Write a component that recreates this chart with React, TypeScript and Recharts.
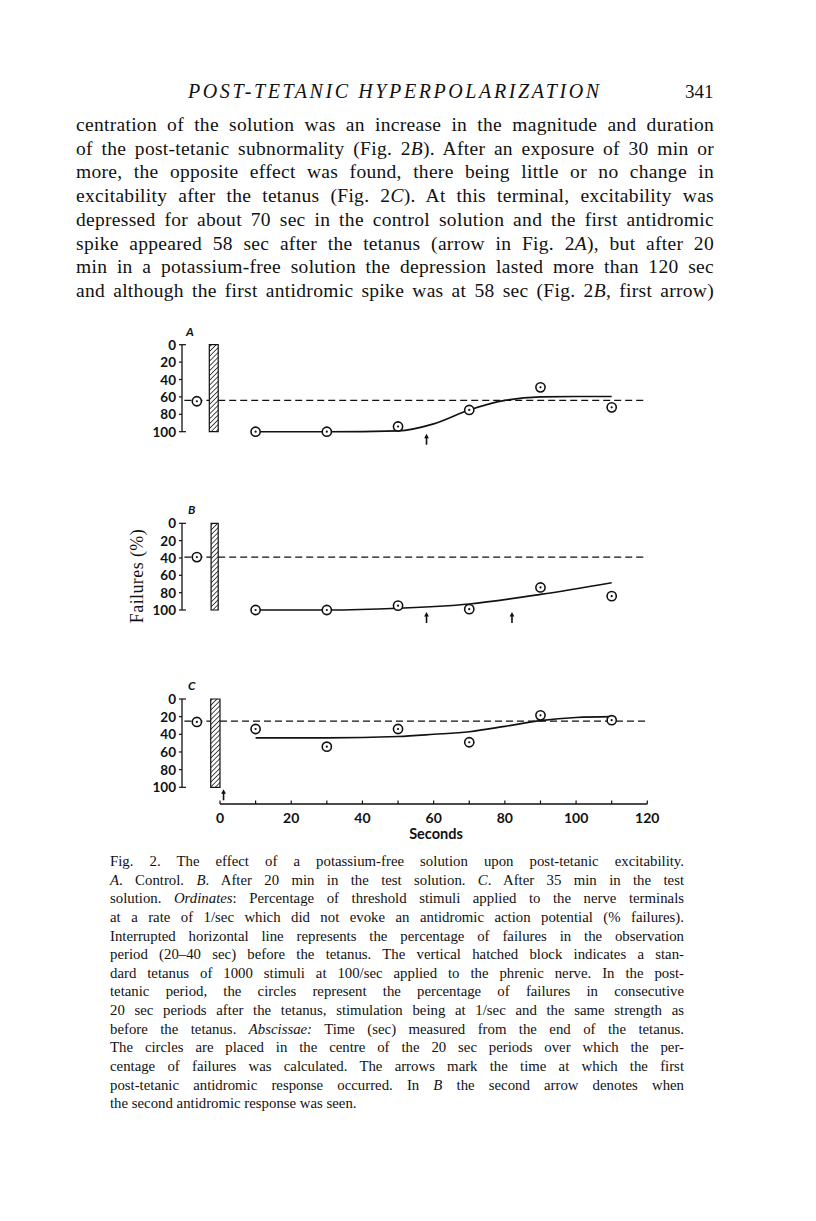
import React from "react";
import {
  ComposedChart,
  Line,
  Scatter,
  XAxis,
  YAxis,
  ReferenceLine,
  ReferenceArea,
} from "recharts";

// sample times (centre of each 20 sec period after the tetanus)
const times = [10, 30, 50, 70, 90, 110];
const failuresA = [100, 100, 94, 75, 49, 72];
const failuresB = [100, 100, 95, 99, 74, 84];
const failuresC = [34, 54, 34, 49, 18.5, 24];

// control point before the tetanus
const preTime = -6.5;
const preA = 65;
const preB = 39;
const preC = 26;

// interrupted line (pre-tetanic level)
const baselineA = 64;
const baselineB = 39;
const baselineC = 25;

// hand-drawn curves
const curveTimesA = [10, 30, 50, 60, 70, 80, 90, 100, 110];
const curveA = [100, 100, 99, 91, 75, 64, 60, 59.5, 59.5];
const curveTimesB = [10, 30, 50, 70, 90, 110];
const curveB = [100, 100, 98, 93, 82, 68.5];
const curveTimesC = [10, 30, 50, 60, 70, 80, 90, 100, 110];
const curveC = [44, 44, 42.5, 40, 37, 31, 24.5, 21, 20];

// first antidromic spike(s)
const arrowsA = [58];
const arrowsB = [58, 82];
const arrowsC = [1];

// tetanus block [start, end] in sec
const tetanusA = [-3, -0.5];
const tetanusB = [-2.5, -0.5];
const tetanusC = [-2.6, 0];

const yTicks = [0, 20, 40, 60, 80, 100];
const xTicks = [0, 10, 20, 30, 40, 50, 60, 70, 80, 90, 100, 110, 120];
const xLabels = [0, 20, 40, 60, 80, 100, 120];

const X_MIN = -10.67;
const INK = "#111";
const tickFont = "Lato, 'Open Sans', sans-serif";

const pts = (xs: number[], ys: number[]) => xs.map((x, i) => ({ x, y: ys[i] }));

const Circle = (props: any) => {
  const { cx, cy } = props;
  if (cx == null || cy == null) return null;
  return (
    <g>
      <circle cx={cx} cy={cy} r={4.6} fill="#fff" stroke={INK} strokeWidth={1.6} />
      <circle cx={cx} cy={cy} r={1.1} fill={INK} />
    </g>
  );
};

const Arrow = (props: any) => {
  const { cx, cy } = props;
  if (cx == null || cy == null) return null;
  return (
    <g>
      <line x1={cx} y1={cy + 5} x2={cx} y2={cy + 13} stroke={INK} strokeWidth={1.6} />
      <path d={`M${cx - 2.4},${cy + 6.5} L${cx},${cy + 2} L${cx + 2.4},${cy + 6.5} Z`} fill={INK} />
    </g>
  );
};

const YTick = (props: any) => {
  const { x, y, payload } = props;
  const v = payload.value;
  return (
    <g>
      <line x1={x - 3} y1={y} x2={x} y2={y} stroke={INK} strokeWidth={1.2} />
      {(v === 0 || v === 100) && <line x1={x} y1={y} x2={x + 4} y2={y} stroke={INK} strokeWidth={1.2} />}
      <text x={x - 6} y={y} textAnchor="end" dominantBaseline="central" fontFamily={tickFont} fontWeight={700} fontSize={13.5} fill={INK}>
        {v}
      </text>
    </g>
  );
};

const XTick = (props: any) => {
  const { x, y, payload } = props;
  const v = payload.value;
  return (
    <g>
      <line x1={x} y1={y - 3.5} x2={x} y2={y} stroke={INK} strokeWidth={1.2} />
      {xLabels.includes(v) && (
        <text x={x} y={y + 13} textAnchor="middle" dominantBaseline="central" fontFamily={tickFont} fontWeight={700} fontSize={14} fill={INK}>
          {v}
        </text>
      )}
    </g>
  );
};

type PanelProps = {
  top: number;
  marginTop: number;
  plotHeight: number;
  failures: number[];
  pre: number;
  baseline: number;
  curveTimes: number[];
  curve: number[];
  arrows: number[];
  tetanus: number[];
  id: string;
};

const Panel = (p: PanelProps) => {
  const height = 130;
  return (
    <div style={{ position: "absolute", left: 0, top: p.top }}>
      <ComposedChart
        width={816}
        height={height}
        margin={{ top: p.marginTop, right: 168.7, bottom: height - p.marginTop - p.plotHeight, left: 152 }}
      >
        <defs>
          <pattern id={p.id} width={3.4} height={3.4} patternUnits="userSpaceOnUse" patternTransform="rotate(45)">
            <rect width={3.4} height={3.4} fill="#fff" />
            <line x1={0} y1={0} x2={0} y2={3.4} stroke={INK} strokeWidth={1.5} />
          </pattern>
        </defs>
        <XAxis type="number" dataKey="x" domain={[X_MIN, 120]} allowDataOverflow hide />
        <YAxis
          type="number"
          domain={[0, 100]}
          reversed
          ticks={yTicks}
          interval={0}
          width={30}
          tickSize={0}
          tickMargin={0}
          tickLine={false}
          tick={<YTick />}
          axisLine={{ stroke: INK, strokeWidth: 1.3 }}
        />
        <ReferenceLine
          segment={[{ x: -10, y: p.baseline }, { x: p.tetanus[0], y: p.baseline }]}
          stroke={INK}
          strokeWidth={1.4}
          strokeDasharray="7 4"
        />
        <ReferenceLine
          segment={[{ x: p.tetanus[1], y: p.baseline }, { x: 120, y: p.baseline }]}
          stroke={INK}
          strokeWidth={1.4}
          strokeDasharray="7 4"
        />
        <ReferenceArea
          x1={p.tetanus[0]}
          x2={p.tetanus[1]}
          y1={0}
          y2={100}
          fill={`url(#${p.id})`}
          fillOpacity={1}
          stroke={INK}
          strokeWidth={1.2}
        />
        <Line
          data={pts(p.curveTimes, p.curve)}
          dataKey="y"
          type="monotone"
          stroke={INK}
          strokeWidth={1.6}
          dot={false}
          isAnimationActive={false}
        />
        <Scatter data={pts(times, p.failures)} dataKey="y" shape={<Circle />} isAnimationActive={false} />
        <Scatter data={[{ x: preTime, y: p.pre }]} dataKey="y" shape={<Circle />} isAnimationActive={false} />
        <Scatter data={p.arrows.map((x) => ({ x, y: 100 }))} dataKey="y" shape={<Arrow />} isAnimationActive={false} />
      </ComposedChart>
    </div>
  );
};

const abs = (left: number, top: number, extra: React.CSSProperties = {}): React.CSSProperties => ({
  position: "absolute",
  left,
  top,
  ...extra,
});

const bodyLines: React.ReactNode[] = [
  <>centration of the solution was an increase in the magnitude and duration</>,
  <>of the post-tetanic subnormality (Fig. 2<i>B</i>). After an exposure of 30 min or</>,
  <>more, the opposite effect was found, there being little or no change in</>,
  <>excitability after the tetanus (Fig. 2<i>C</i>). At this terminal, excitability was</>,
  <>depressed for about 70 sec in the control solution and the first antidromic</>,
  <>spike appeared 58 sec after the tetanus (arrow in Fig. 2<i>A</i>), but after 20</>,
  <>min in a potassium-free solution the depression lasted more than 120 sec</>,
  <>and although the first antidromic spike was at 58 sec (Fig. 2<i>B</i>, first arrow)</>,
];

const captionLines: React.ReactNode[] = [
  <>Fig. 2. The effect of a potassium-free solution upon post-tetanic excitability.</>,
  <><i>A</i>. Control. <i>B</i>. After 20 min in the test solution. <i>C</i>. After 35 min in the test</>,
  <>solution. <i>Ordinates</i>: Percentage of threshold stimuli applied to the nerve terminals</>,
  <>at a rate of 1/sec which did not evoke an antidromic action potential (% failures).</>,
  <>Interrupted horizontal line represents the percentage of failures in the observation</>,
  <>period (20–40 sec) before the tetanus. The vertical hatched block indicates a stan-</>,
  <>dard tetanus of 1000 stimuli at 100/sec applied to the phrenic nerve. In the post-</>,
  <>tetanic period, the circles represent the percentage of failures in consecutive</>,
  <>20 sec periods after the tetanus, stimulation being at 1/sec and the same strength as</>,
  <>before the tetanus. <i>Abscissae:</i> Time (sec) measured from the end of the tetanus.</>,
  <>The circles are placed in the centre of the 20 sec periods over which the per-</>,
  <>centage of failures was calculated. The arrows mark the time at which the first</>,
  <>post-tetanic antidromic response occurred. In <i>B</i> the second arrow denotes when</>,
  <>the second antidromic response was seen.</>,
];

const serif = "'Liberation Serif', 'DejaVu Serif', serif";

export default function App() {
  return (
    <div style={{ position: "absolute", left: 0, top: 0, width: 816, height: 1221, background: "#fff", color: INK, fontFamily: serif }}>
      <div style={abs(188, 80, { fontSize: 20, fontStyle: "italic", letterSpacing: 2.6, lineHeight: "23px", whiteSpace: "nowrap" })}>
        POST-TETANIC HYPERPOLARIZATION
      </div>
      <div style={abs(685, 80, { fontSize: 19, lineHeight: "23px" })}>341</div>

      {bodyLines.map((l, i) => (
        <div
          key={i}
          style={abs(76, 114 + i * 23.7, {
            width: 638,
            fontSize: 19.5,
            letterSpacing: 0.3,
            lineHeight: "22px",
            textAlign: "justify",
            textAlignLast: "justify",
          })}
        >
          {l}
        </div>
      ))}

      <div style={abs(186, 324, { fontFamily: tickFont, fontStyle: "italic", fontWeight: 700, fontSize: 12 })}>A</div>
      <div style={abs(188, 502, { fontFamily: tickFont, fontStyle: "italic", fontWeight: 700, fontSize: 12 })}>B</div>
      <div style={abs(188, 678, { fontFamily: tickFont, fontStyle: "italic", fontWeight: 700, fontSize: 12 })}>C</div>

      <div
        style={abs(81.7, 565.8, {
          width: 110,
          height: 20,
          lineHeight: "20px",
          textAlign: "center",
          fontSize: 18,
          letterSpacing: 0.4,
          transform: "rotate(-90deg)",
          whiteSpace: "nowrap",
        })}
      >
        Failures (%)
      </div>

      <Panel
        id="hatchA"
        top={320}
        marginTop={24.7}
        plotHeight={87}
        failures={failuresA}
        pre={preA}
        baseline={baselineA}
        curveTimes={curveTimesA}
        curve={curveA}
        arrows={arrowsA}
        tetanus={tetanusA}
      />
      <Panel
        id="hatchB"
        top={500}
        marginTop={23.3}
        plotHeight={86.7}
        failures={failuresB}
        pre={preB}
        baseline={baselineB}
        curveTimes={curveTimesB}
        curve={curveB}
        arrows={arrowsB}
        tetanus={tetanusB}
      />
      <Panel
        id="hatchC"
        top={675}
        marginTop={24}
        plotHeight={88.3}
        failures={failuresC}
        pre={preC}
        baseline={baselineC}
        curveTimes={curveTimesC}
        curve={curveC}
        arrows={arrowsC}
        tetanus={tetanusC}
      />

      {/* abscissa, drawn under panel C */}
      <div style={abs(0, 780)}>
        <ComposedChart width={816} height={70} margin={{ top: 10, right: 168.7, bottom: 16, left: 220 }} data={times.map((t) => ({ x: t }))}>
          <XAxis
            type="number"
            dataKey="x"
            domain={[0, 120]}
            ticks={xTicks}
            interval={0}
            height={30}
            tickSize={0}
            tickMargin={0}
            tickLine={false}
            tick={<XTick />}
            axisLine={{ stroke: INK, strokeWidth: 1.3 }}
          />
          <YAxis hide domain={[0, 100]} />
        </ComposedChart>
      </div>
      <div style={abs(386, 824, { width: 100, textAlign: "center", fontFamily: tickFont, fontWeight: 700, fontSize: 14.5, lineHeight: "20px" })}>
        Seconds
      </div>

      {captionLines.map((l, i) => (
        <div
          key={i}
          style={abs(110, 852 + i * 18.64, {
            width: 574,
            fontSize: 14.8,
            lineHeight: "18px",
            textAlign: "justify",
            textAlignLast: i === captionLines.length - 1 ? "left" : "justify",
          })}
        >
          {l}
        </div>
      ))}
    </div>
  );
}
